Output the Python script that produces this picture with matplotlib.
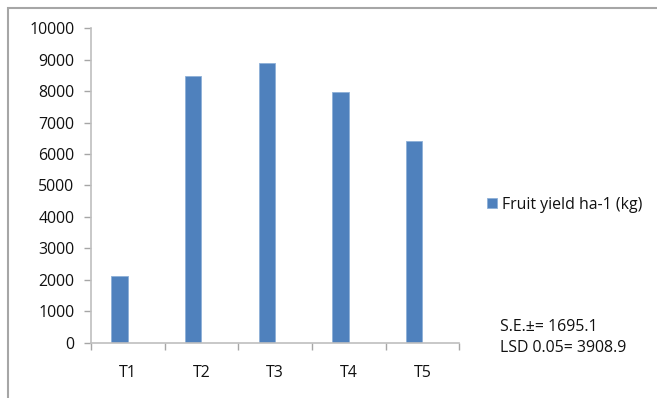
import matplotlib.pyplot as plt
from matplotlib.patches import Rectangle
import numpy as np

treatments = ["T1", "T2", "T3", "T4", "T5"]
fruit_yield = [2120, 8490, 8910, 7970, 6430]
yticks = [0, 1000, 2000, 3000, 4000, 5000, 6000, 7000, 8000, 9000, 10000]
series_name = "Fruit yield ha-1 (kg)"
stats_lines = ["S.E.\u00b1= 1695.1", "LSD 0.05= 3908.9"]

plt.rcParams['font.family'] = ['Open Sans', 'DejaVu Sans']
FS = 11.4
TXT = '#111111'

W, H = 657, 398
fig = plt.figure(figsize=(W / 100, H / 100), dpi=100)

# outer chart border (runs off the right and bottom edges)
fig.patches.append(Rectangle((8 / W, -0.05), 1.1, 1 - 8 / H + 0.05,
                             transform=fig.transFigure, fill=False,
                             edgecolor='#a6a6a6', linewidth=1.5))

ax = fig.add_axes([91 / W, (H - 342.7) / H, 368.3 / W, 314.4 / H])

x = np.arange(len(treatments))
bar_w = 0.222
ax.bar(x - 0.222, fruit_yield, width=bar_w, align='edge',
       color='#4F81BD', edgecolor='#8eb0d8', linewidth=0.6,
       label=series_name)

ax.set_xlim(-0.5, len(treatments) - 0.5)
ax.set_ylim(0, 10000)
ax.set_yticks(yticks)
ax.set_yticklabels([str(v) for v in yticks], fontsize=FS, color=TXT)

# category boundaries get the tick marks, labels sit in the middle
ax.set_xticks(np.arange(len(treatments) + 1) - 0.5)
ax.set_xticklabels([])
ax.set_xticks(x, minor=True)
ax.set_xticklabels(treatments, minor=True, fontsize=FS, color=TXT)
ax.tick_params(axis='x', which='minor', length=0, pad=16)
ax.tick_params(axis='x', which='major', length=5, color='#a6a6a6', width=1)
ax.tick_params(axis='y', length=5, color='#a6a6a6', width=1, pad=7)

for side in ['top', 'right']:
    ax.spines[side].set_visible(False)
for side in ['left', 'bottom']:
    ax.spines[side].set_color('#bfbfbf')
    ax.spines[side].set_linewidth(1.2)

ax.legend(loc='center left', bbox_to_anchor=(487 / W, (H - 205) / H),
          bbox_transform=fig.transFigure, frameon=False, fontsize=FS,
          handlelength=0.6, handleheight=0.6, handletextpad=0.35,
          borderpad=0, borderaxespad=0, labelcolor=TXT)

fig.text(500 / W, (H - 327) / H, stats_lines[0], fontsize=FS,
         color=TXT, va='center', ha='left')
fig.text(500 / W, (H - 348.5) / H, stats_lines[1], fontsize=FS,
         color=TXT, va='center', ha='left')

fig.savefig('out.png', dpi=100)
